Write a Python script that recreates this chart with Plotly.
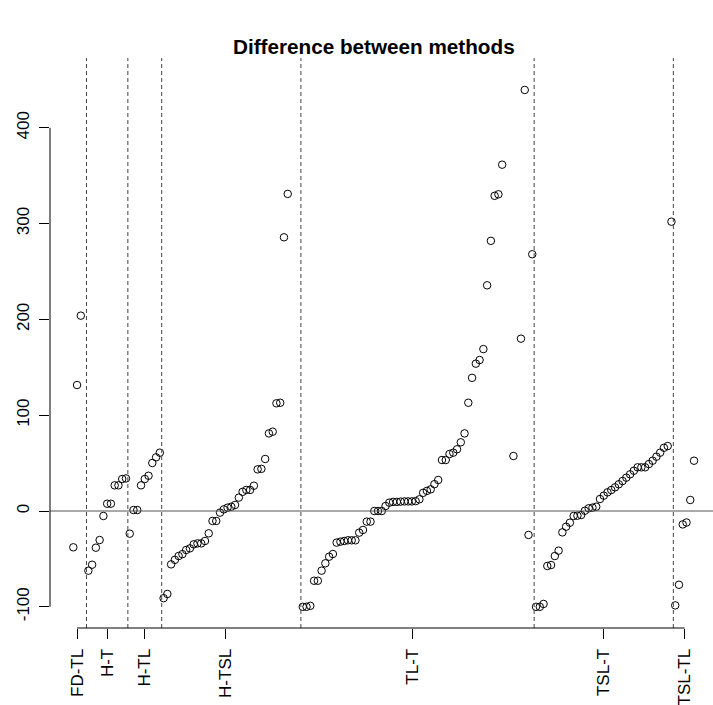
import plotly.graph_objects as go

# ---- data (None = missing value) ----
group_labels = ["FD-TL", "H-T", "H-TL", "H-TSL", "TL-T", "TSL-T", "TSL-TL"]

fd_tl = [-37.9, 131.5, 203.9, None]
h_t = [-62.3, -56.1, -38.3, -30.3, -5.2, 7.6, 7.6, 26.8, 26.8, 33.4, 34.0]
h_tl = [-23.7, 1.0, 1.0, 26.8, 33.4, 36.8, 50.1, 56.0, 60.9]
h_tsl = [-91.0, -86.6, -55.7, -51.0, -47.0, -45.0, -40.7, -39.0, -34.8, -33.8,
         -33.8, -31.3, -23.3, -10.4, -10.4, -1.7, 1.7, 3.5, 4.5, 6.3,
         14.0, 20.0, 22.0, 22.0, 26.4, 43.5, 44.0, 54.3, 81.0, 82.8,
         112.4, 113.0, 285.7, 331.0, None, None, None]
tl_t = [-100.0, -100.0, -99.0, -72.8, -72.8, -62.3, -54.6, -47.7, -44.9, -33.0,
        -32.0, -31.3, -30.6, -30.6, -30.6, -22.6, -19.8, -11.1, -11.1, 0.0,
        0.0, 0.0, 5.2, 8.7, 9.5, 9.5, 9.8, 10.0, 10.0, 10.0,
        10.3, 12.2, 19.0, 21.0, 22.6, 28.0, 32.4, 53.2, 53.2, 59.5,
        60.9, 64.4, 71.7, 81.0, 113.0, 139.0, 153.8, 157.6, 169.0, 235.6,
        282.0, 329.0, 330.6, 361.5, None, None, 57.4, None, 179.9, 439.5,
        -25.0, 268.0]
tsl_t = [-100.0, -100.0, -97.0, -57.4, -56.4, -47.0, -41.4, -22.3, -16.4, -12.2,
         -5.2, -4.9, -4.2, 0.3, 2.8, 3.5, 4.5, 12.5, 16.0, 19.5,
         21.9, 24.7, 27.9, 31.3, 34.8, 38.3, 42.0, 45.6, 45.6, 45.6,
         49.0, 52.5, 56.7, 60.9, 66.0, 67.8, 302.0]
tsl_tl = [-98.5, -77.0, -14.0, -12.0, 11.5, 52.5]

y_ticks = [-100, 0, 100, 200, 300, 400]

groups = [fd_tl, h_t, h_tl, h_tsl, tl_t, tsl_t, tsl_tl]

# ---- build index positions (like R's plot of a vector) ----
values = []
for g in groups:
    values.extend(g)
x = list(range(1, len(values) + 1))

boundaries = []
centers = []
start = 1
for g in groups:
    idx = [start + i for i, v in enumerate(g) if v is not None]
    centers.append(sum(idx) / len(idx))
    start += len(g)
    boundaries.append(start - 0.5)
boundaries = boundaries[:-1]

FONT = "Liberation Sans, Arial, Helvetica, sans-serif"

fig = go.Figure()
fig.add_trace(go.Scatter(
    x=x, y=values, mode="markers",
    marker=dict(symbol="circle-open", size=7.5, color="black", line=dict(width=1)),
    hoverinfo="x+y", showlegend=False,
))

shapes = []
for b in boundaries:
    shapes.append(dict(type="line", xref="x", yref="paper", x0=b, x1=b, y0=0, y1=1,
                       line=dict(color="#444444", width=1, dash="4px,3px")))
shapes.append(dict(type="line", xref="paper", yref="y", x0=0, x1=1, y0=0, y1=0,
                   line=dict(color="#555555", width=1)))
# R-style axis lines spanning first to last tick
shapes.append(dict(type="line", xref="paper", yref="y", x0=0, x1=0,
                   y0=y_ticks[0], y1=y_ticks[-1], line=dict(color="black", width=1)))
shapes.append(dict(type="line", xref="x", yref="paper", x0=centers[0], x1=centers[-1],
                   y0=0, y1=0, line=dict(color="black", width=1)))

W, H = 713, 705
L, R, T, B = 50, 0, 58, 77
px_first, px_step = 73.3, 3.762
y0_px, y_scale = 511.0, 0.958
x_lo = 1 - (px_first - L) / px_step
x_hi = 1 + (W - R - px_first) / px_step
y_hi = (y0_px - T) / y_scale
y_lo = (y0_px - (H - B)) / y_scale

fig.update_layout(
    width=W, height=H, template="none",
    margin=dict(l=L, r=R, t=T, b=B, pad=0),
    paper_bgcolor="white", plot_bgcolor="white",
    font=dict(family=FONT, size=17, color="black"),
    shapes=shapes,
    xaxis=dict(range=[x_lo, x_hi], showgrid=False, zeroline=False, showline=False,
               tickmode="array", tickvals=centers, ticktext=group_labels,
               ticks="outside", ticklen=10, tickwidth=1, tickcolor="black",
               tickangle=-90, tickfont=dict(size=17, family=FONT),
               ticklabelstandoff=3, automargin=False),
    yaxis=dict(range=[y_lo, y_hi], showgrid=False, zeroline=False, showline=False,
               tickmode="array", tickvals=y_ticks, ticktext=[str(v) for v in y_ticks],
               ticks="outside", ticklen=10, tickwidth=1, tickcolor="black",
               tickangle=-90, tickfont=dict(size=17, family=FONT),
               ticklabelstandoff=3, automargin=False),
    annotations=[dict(text="<b>Difference between methods</b>", xref="paper", yref="paper",
                      x=(374 - L) / (W - L - R), y=1 + (T - 47) / (H - T - B),
                      xanchor="center", yanchor="middle", showarrow=False,
                      font=dict(size=20.7, family=FONT, color="black"))],
)

fig.write_html("out.html", config={"displayModeBar": False, "staticPlot": True})

# remove the default page margin so the figure sits at the window's top-left corner
with open("out.html", "r", encoding="utf-8") as f:
    page = f.read()
page = page.replace("<head>", "<head><style>html,body{margin:0;padding:0;overflow:hidden;}</style>", 1)
with open("out.html", "w", encoding="utf-8") as f:
    f.write(page)
